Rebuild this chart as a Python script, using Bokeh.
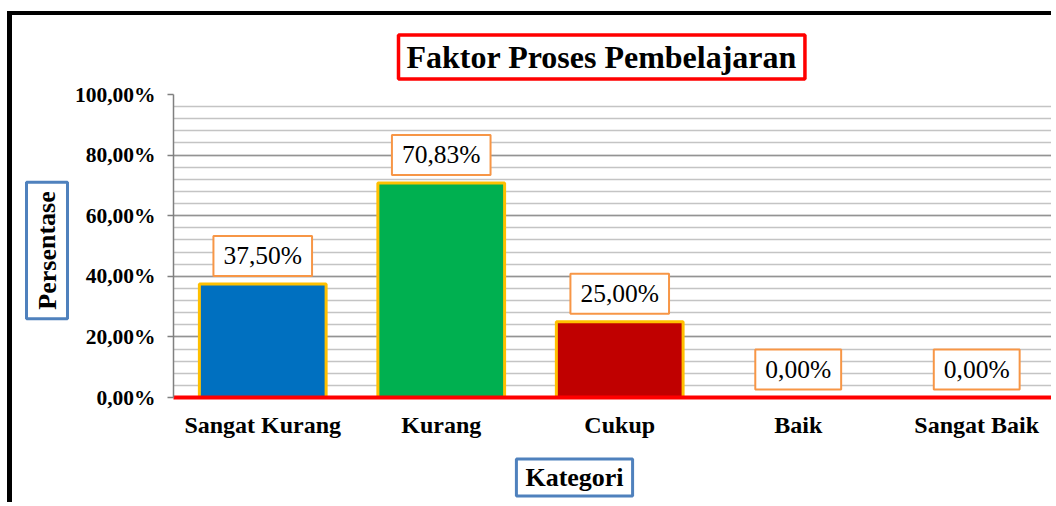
from bokeh.plotting import figure
from bokeh.models import Range1d, FixedTicker, Label
from bokeh.embed import file_html
from bokeh.resources import INLINE

categories = ["Sangat Kurang", "Kurang", "Cukup", "Baik", "Sangat Baik"]
values = [37.50, 70.83, 25.00, 0.00, 0.00]
value_labels = ["37,50%", "70,83%", "25,00%", "0,00%", "0,00%"]
bar_colors = ["#0070C0", "#00B050", "#C00000", "#4F81BD", "#4F81BD"]
y_ticks = [0, 20, 40, 60, 80, 100]
y_tick_labels = ["0,00%", "20,00%", "40,00%", "60,00%", "80,00%", "100,00%"]
y_minor = [v for v in range(0, 101, 4)]
title_text = "Faktor Proses Pembelajaran"
x_title = "Kategori"
y_title = "Persentase"

FONT = "Liberation Serif"
xs = [i + 0.5 for i in range(len(categories))]

p = figure(width=1044, height=491, output_backend="svg", toolbar_location=None,
           x_range=Range1d(0, 4.947), y_range=Range1d(0, 100),
           min_border_left=161, min_border_right=0, min_border_top=79,
           min_border_bottom=109)
p.styles = {"margin-left": "7px", "margin-top": "11px",
            "border-left": "5px solid black", "border-top": "4px solid black"}
p.outline_line_color = None
p.background_fill_color = "white"
p.border_fill_color = "white"

p.vbar(x=xs, top=values, bottom=0, width=0.71, fill_color=bar_colors,
       line_color="#FFC000", line_width=3)

# axes
p.xaxis.ticker = FixedTicker(ticks=xs)
p.xaxis.major_label_overrides = {x: c for x, c in zip(xs, categories)}
p.xaxis.major_tick_line_color = None
p.xaxis.minor_tick_line_color = None
p.xaxis.axis_line_color = "#FF0000"
p.xaxis.axis_line_width = 4
p.xaxis.major_label_text_font = FONT
p.xaxis.major_label_text_font_style = "bold"
p.xaxis.major_label_text_font_size = "24px"
p.xaxis.major_label_text_color = "black"
p.xaxis.major_label_standoff = 8

p.yaxis.ticker = FixedTicker(ticks=y_ticks, minor_ticks=y_minor)
p.yaxis.major_label_overrides = {t: l for t, l in zip(y_ticks, y_tick_labels)}
p.yaxis.major_tick_out = 6
p.yaxis.major_tick_in = 0
p.yaxis.major_tick_line_color = "#808080"
p.yaxis.major_tick_line_width = 1.5
p.yaxis.minor_tick_line_color = None
p.yaxis.axis_line_color = "#808080"
p.yaxis.axis_line_width = 1.5
p.yaxis.major_label_text_font = FONT
p.yaxis.major_label_text_font_style = "bold"
p.yaxis.major_label_text_font_size = "21.5px"
p.yaxis.major_label_text_color = "black"
p.yaxis.major_label_standoff = 12

p.xgrid.grid_line_color = None
p.ygrid.grid_line_color = "#939393"
p.ygrid.grid_line_width = 1.5
p.ygrid.minor_grid_line_color = "#C4C4C4"
p.ygrid.minor_grid_line_width = 1.5

# value labels
for x, v, t in zip(xs, values, value_labels):
    p.add_layout(Label(x=x, y=v, text=t, text_align="center", text_baseline="bottom",
                       y_offset=8, text_font=FONT, text_font_size="25.5px",
                       text_color="black", background_fill_color="white",
                       border_line_color="#F79646", border_line_width=2,
                       padding=dict(left=10, right=10, top=5, bottom=6)))

# title
p.title.text = title_text
p.title.align = "left"
p.title.offset = 225
p.title.standoff = 31
p.title.text_font = FONT
p.title.text_font_style = "bold"
p.title.text_font_size = "32px"
p.title.text_color = "black"
p.title.background_fill_color = "white"
p.title.border_line_color = "#FF0000"
p.title.border_line_width = 3.5
p.title.padding = dict(left=8, right=8, top=4, bottom=4)

# axis titles
p.add_layout(Label(x=401, y=0, x_units="screen", y_units="screen", text=x_title,
                   text_align="center", text_baseline="middle", text_font=FONT,
                   text_font_style="bold", text_font_size="26px", text_color="black",
                   background_fill_color="white", border_line_color="#4F81BD",
                   border_line_width=3, padding=dict(left=9, right=9, top=4, bottom=4)),
             "below")
p.add_layout(Label(x=22.5, y=147, x_units="screen", y_units="screen", text=y_title,
                   angle=1.5708, text_align="center", text_baseline="middle",
                   text_font=FONT, text_font_style="bold", text_font_size="26px",
                   text_color="black", background_fill_color="white",
                   border_line_color="#4F81BD", border_line_width=3,
                   padding=dict(left=9, right=9, top=6, bottom=6)), "left")

open("out.html", "w").write(file_html(p, INLINE))
